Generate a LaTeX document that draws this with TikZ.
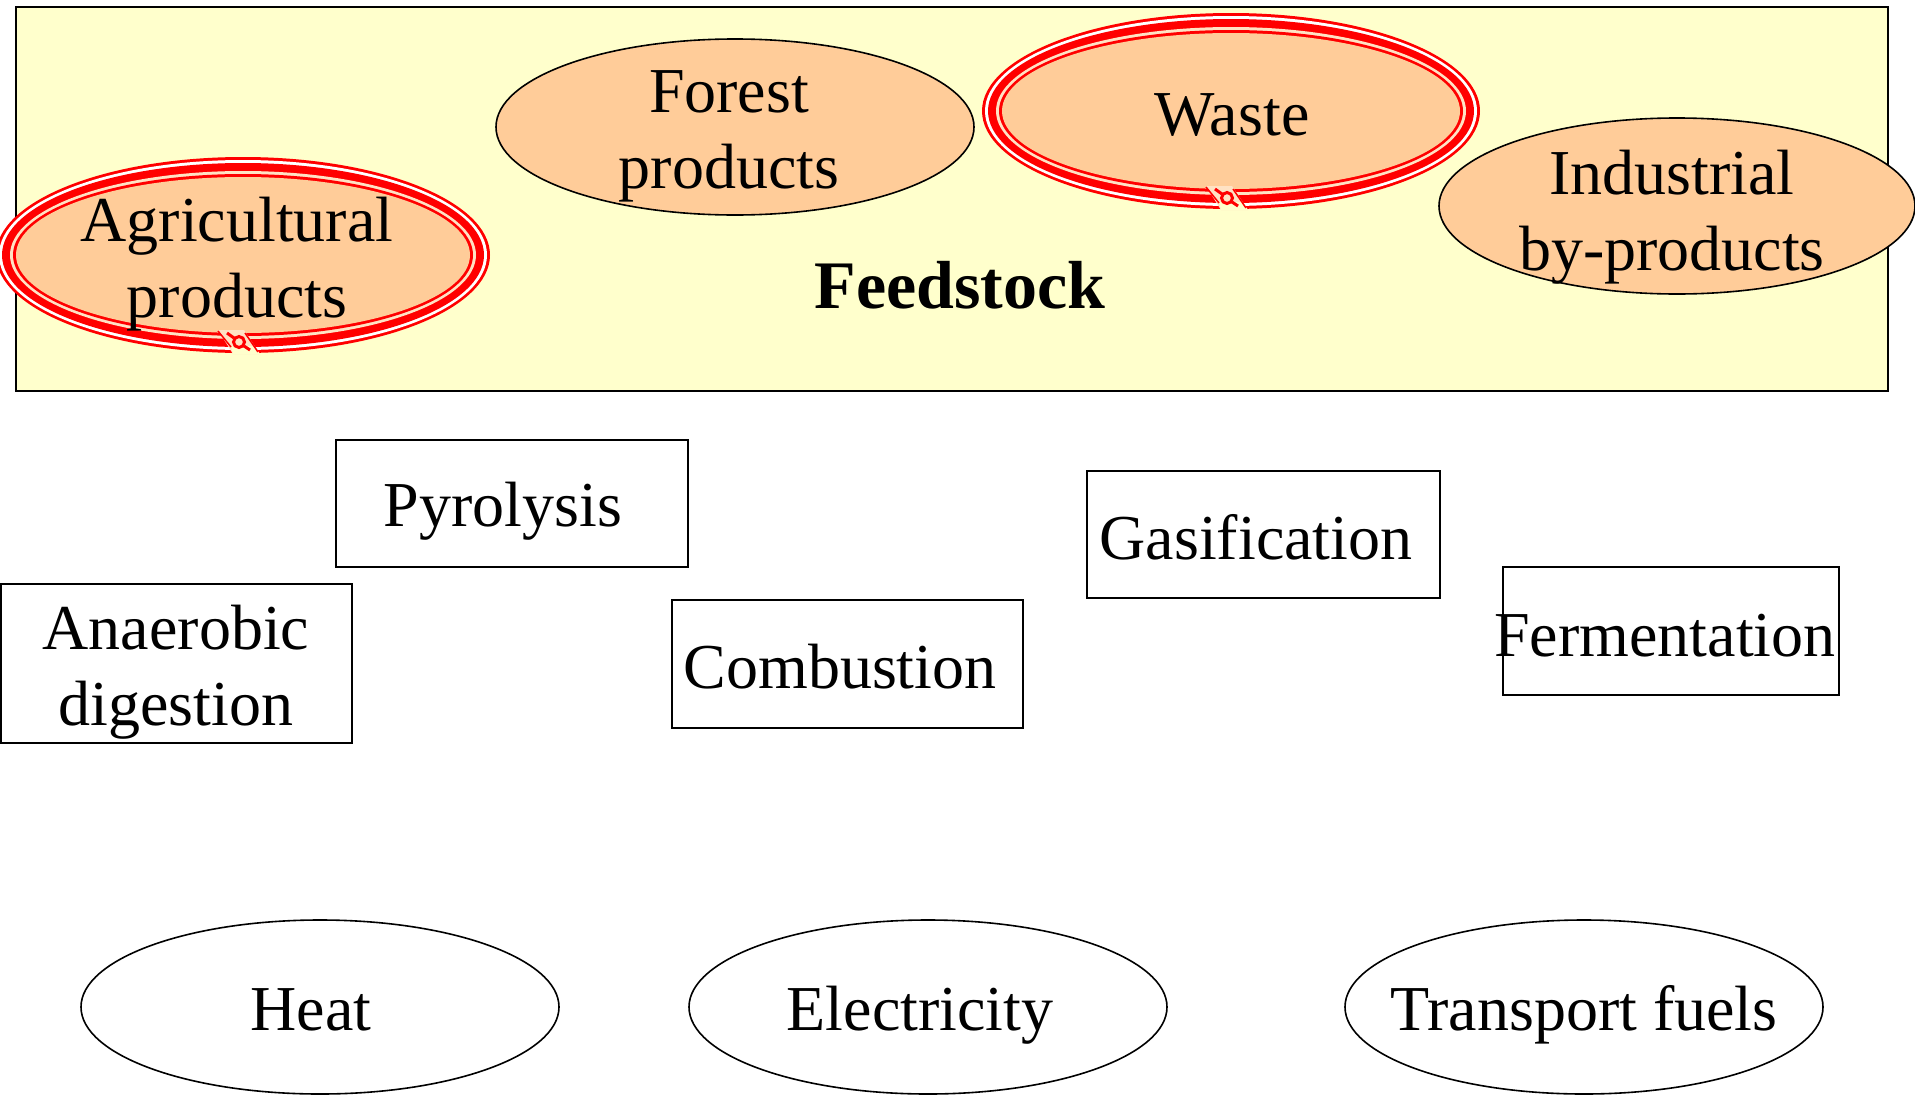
\documentclass[tikz,border=0pt]{standalone}
\usepackage{fontspec}
\setmainfont{Liberation Serif}
\usetikzlibrary{shapes.geometric}
\definecolor{bgyellow}{HTML}{FFFFCC}
\definecolor{peach}{HTML}{FFCC99}
\definecolor{lightpeach}{HTML}{FFE2C4}
\newcommand{\redtriple}[5]{%
  \fill[red] (#2,#3) ellipse [x radius=#4, y radius=#5];
  \fill[white] (#2,#3) ellipse [x radius=#4-3, y radius=#5-3];
  \fill[red] (#2,#3) ellipse [x radius=#4-6, y radius=#5-6];
  \fill[lightpeach] (#2,#3) ellipse [x radius=#4-14, y radius=#5-14];
  \fill[red] (#2,#3) ellipse [x radius=#4-17, y radius=#5-17];
  \fill[peach] (#2,#3) ellipse [x radius=#4-20, y radius=#5-20];
  % twist at the bottom
  \begin{scope}[shift={(#2-4,#3+#5-11)}]
    \fill[lightpeach] (-21,-12) -- (5,-12) -- (21,12) -- (-6,12) -- cycle;
    \fill[bgyellow] (-8,4) -- (15,4) -- (21,12) -- (-6,12) -- cycle;
    \draw[red, line width=1.5pt] (-21,-11) -- (-8,5);
    \draw[red, line width=1.5pt] (6,-9) -- (19,10);
    \draw[red, line width=3pt] (0,0) circle [radius=5.5];
    \draw[red, line width=3pt] (-5,-4) -- (-12,-9);
    \draw[red, line width=3pt] (5,4) -- (11,8);
  \end{scope}
  \node[ellipse, minimum width=2*#4 pt, minimum height=2*#5 pt, inner sep=0pt] (#1) at (#2,#3) {};
}
\begin{document}
\begin{tikzpicture}[x=1pt,y=-1pt,
  txt/.style={font=\fontsize{64}{76}\selectfont, align=center, inner sep=0pt},
  btxt/.style={font=\fontsize{64}{76}\selectfont, inner sep=0pt, anchor=base},
  bigtxt/.style={font=\fontsize{68}{80}\selectfont\bfseries, inner sep=0pt},
  procbox/.style={draw=black, line width=2pt, fill=white, inner sep=0pt},
  feedell/.style={ellipse, draw=black, line width=1.6pt, fill=peach, inner sep=0pt},
  outell/.style={ellipse, draw=black, line width=1.6pt, fill=white, inner sep=0pt, minimum width=478pt, minimum height=174pt},
]
\useasboundingbox (0,0) rectangle (1915,1095);
\fill[white] (0,0) rectangle (1915,1095);

% Feedstock area
\node[draw=black, line width=2pt, fill=bgyellow, minimum width=1872pt, minimum height=384pt, inner sep=0pt] (feed) at (952,199) {};

\redtriple{agri}{243}{255}{247}{98}
\redtriple{waste}{1231}{111}{249}{98}
\node[feedell, minimum width=478pt, minimum height=176pt] (forest) at (735,127) {};
\node[feedell, minimum width=476pt, minimum height=176pt] (indus) at (1677,206) {};

\node[txt] (agritxt) at (237,264) {Agricultural\\products};
\node[txt] (foresttxt) at (729,136) {Forest\\products};
\node[btxt] (wastetxt) at (1232,135) {Waste};
\node[txt] (industxt) at (1672,217) {Industrial\\by-products};
\node[bigtxt] (feedtxt) at (960,285) {Feedstock};

% Processes
\node[procbox, minimum width=352pt, minimum height=127pt] (pyro) at (512,503.5) {};
\node[btxt] (pyrotxt) at (503,526) {Pyrolysis};
\node[procbox, minimum width=351pt, minimum height=159pt] (anaer) at (176.5,663.5) {};
\node[txt] (anaertxt) at (176,672) {Anaerobic\\digestion};
\node[procbox, minimum width=351pt, minimum height=128pt] (comb) at (847.5,664) {};
\node[btxt] (combtxt) at (840,688) {Combustion};
\node[procbox, minimum width=353pt, minimum height=127pt] (gasi) at (1263.5,534.5) {};
\node[btxt] (gasitxt) at (1256,559) {Gasification};
\node[procbox, minimum width=336pt, minimum height=128pt] (ferm) at (1671,631) {};
\node[btxt] (fermtxt) at (1665,656) {Fermentation};

% Outputs
\node[outell] (heat) at (320,1007) {};
\node[btxt] (heattxt) at (311,1030) {Heat};
\node[outell] (elec) at (928,1007) {};
\node[btxt] (electxt) at (920,1030) {Electricity};
\node[outell] (trans) at (1584,1007) {};
\node[btxt] (transtxt) at (1584,1030) {Transport fuels};
\end{tikzpicture}
\end{document}
